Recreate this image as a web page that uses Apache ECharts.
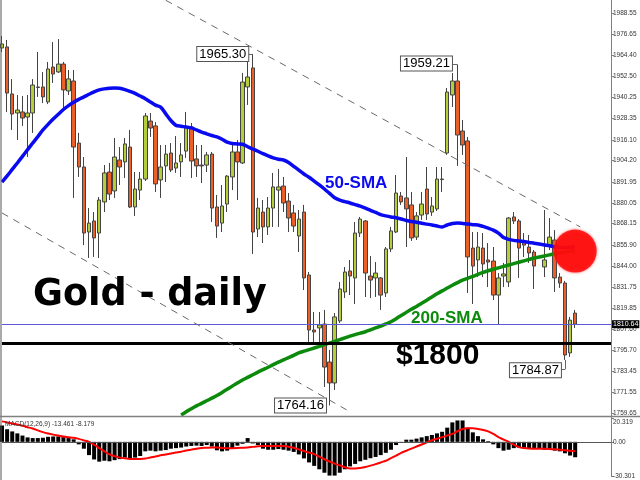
<!DOCTYPE html>
<html><head><meta charset="utf-8">
<script src="https://cdn.jsdelivr.net/npm/echarts@6/dist/echarts.min.js"></script>
<style>html,body{margin:0;padding:0;background:#fff}#c{width:640px;height:480px}</style>
</head><body><div id="c"></div>
<script>
// ---- data ----
const openP = [1968.7,1969.3,1942.4,1931.5,1932.1,1929.2,1931.5,1946.4,1946.4,1937.8,
1957.8,1955.0,1959.5,1944.1,1949.8,1914.3,1900.6,1863.4,1869.7,1862.8,
1880.6,1897.7,1886.9,1904.6,1903.5,1912.0,1877.7,1887.4,1893.7,1926.9,
1924.1,1893.2,1901.2,1908.6,1900.0,1903.5,1909.7,1923.5,1905.2,1901.7,
1901.7,1908.0,1877.7,1868.5,1879.4,1894.9,1909.2,1902.9,1946.4,1957.3,
1865.1,1874.8,1866.3,1877.1,1887.4,1889.7,1881.1,1874.3,1861.1,1874.8,
1838.8,1807.3,1808.5,1810.7,1789.0,1777.0,1812.5,1829.1,1841.1,1837.1,
1862.8,1869.7,1838.2,1837.1,1837.1,1828.5,1853.7,1863.4,1884.0,1882.9,
1878.9,1860.5,1873.1,1888.0,1874.8,1876.6,1893.7,1908.6,1941.8,1949.8,
1921.2,1915.5,1854.2,1847.4,1854.2,1847.4,1846.8,1827.3,1838.2,1834.8,
1872.0,1869.7,1858.2,1854.8,1851.9,null,1843.4,1855.9,1858.8,1837.6,
1834.2,1794.2,1817.0];
const closeP = [1971.0,1942.9,1930.9,1933.2,1928.6,1931.5,1947.5,1946.1,1940.7,1956.7,
1953.8,1959.5,1944.7,1951.0,1912.0,1900.6,1862.8,1868.5,1860.0,1881.7,
1897.2,1885.1,1906.3,1900.6,1913.8,1877.7,1888.0,1893.7,1929.8,1922.9,
1890.9,1900.6,1908.0,1898.9,1902.9,1907.5,1923.5,1904.0,1901.2,1901.2,
1907.5,1877.1,1866.8,1878.3,1895.4,1909.2,1903.5,1949.2,1952.1,1863.4,
1877.1,1866.3,1877.1,1889.2,1889.2,1880.0,1871.4,1866.8,1870.8,1837.1,
1807.3,1806.2,1810.2,1786.1,1777.0,1814.8,1830.8,1840.5,1838.2,1862.8,
1870.8,1839.9,1835.9,1839.9,1827.3,1853.7,1864.0,1885.7,1880.6,1876.6,
1860.0,1872.6,1879.4,1873.7,1878.3,1893.7,1893.4,1943.5,1949.8,1918.9,
1913.2,1849.1,1843.9,1854.8,1845.1,1846.2,1827.3,1837.1,1839.4,1871.4,
1869.7,1854.2,1855.9,1851.4,1843.9,null,1847.4,1860.5,1837.1,1834.2,
1793.0,1813.0,1810.64];
const lowP = [1966.4,1932.1,1921.8,1916.0,1924.1,1906.3,1920.1,1940.7,1937.2,1936.6,
1948.7,1954.4,1933.2,1941.8,1882.9,1894.9,1855.9,1848.5,1849.1,1848.5,
1874.8,1881.7,1882.9,1890.3,1894.3,1877.1,1872.6,1881.7,1892.6,1917.8,
1886.3,1882.9,1892.0,1897.7,1897.2,1894.9,1905.8,1894.3,1894.9,1891.4,
1897.7,1869.1,1860.0,1863.4,1874.8,1887.4,1881.7,1902.3,1936.1,1850.8,
1860.5,1857.1,1861.7,1866.3,1866.3,1874.8,1863.4,1863.4,1851.9,1830.2,
1800.5,1800.5,1800.5,1774.7,1764.16,1773.0,1811.3,1825.6,1827.3,1822.2,
1860.5,1826.2,1825.6,1826.2,1818.8,1826.2,1851.9,1862.8,1878.9,1854.8,
1858.3,1858.8,1870.3,1870.3,1872.6,1875.4,1886.3,1907.5,1934.9,1901.2,
1907.5,1828.5,1822.2,1837.6,1837.6,1831.9,1824.5,1810.2,1831.9,1831.9,
1868.0,1837.1,1849.1,1845.7,1830.8,null,1837.6,1853.1,1829.1,1831.4,
1790.2,1791.9,1808.5];
const highP = [1975.6,1973.3,1950.9,1941.8,1941.2,1941.8,1950.9,1966.4,1954.9,1960.7,
1972.1,1973.8,1960.7,1956.1,1956.1,1920.1,1906.3,1877.1,1874.8,1883.4,
1901.7,1902.9,1917.2,1912.0,1917.2,1921.8,1897.7,1897.7,1931.5,1931.5,
1926.3,1913.2,1913.2,1914.3,1918.3,1914.3,1932.1,1925.8,1913.2,1913.2,
1909.2,1909.2,1884.6,1890.3,1896.0,1914.9,1916.0,1954.4,1962.9,1965.30,
1882.9,1881.7,1883.4,1897.2,1899.5,1894.9,1885.7,1878.9,1876.0,1878.9,
1840.5,1817.6,1817.6,1818.8,1795.9,1817.0,1834.8,1843.4,1847.4,1869.1,
1872.0,1870.3,1849.7,1846.2,1837.6,1854.8,1866.3,1896.0,1886.3,1906.3,
1886.3,1874.8,1886.3,1900.6,1883.4,1900.6,1900.6,1945.8,1954.4,1959.21,
1927.5,1917.8,1863.4,1863.4,1862.8,1857.1,1854.8,1839.9,1845.7,1872.0,
1874.8,1870.8,1862.8,1861.7,1853.1,null,1876.0,1871.4,1864.5,1839.9,
1835.4,1814.8,1818.8];
const sma50 = [1892.0,1895.5,1899.2,1902.9,1906.7,1910.5,1914.3,1918.0,1921.8,1925.0,
1928.0,1930.8,1933.5,1935.7,1937.6,1939.3,1940.7,1942.2,1943.6,1944.7,
1945.3,1945.7,1945.8,1945.6,1944.9,1943.9,1942.7,1941.2,1939.7,1937.8,
1936.0,1934.9,1931.0,1927.2,1924.4,1923.9,1923.5,1923.0,1921.8,1920.6,
1919.6,1918.6,1917.8,1916.5,1914.8,1914.0,1913.8,1913.6,1912.2,1910.9,
1909.6,1908.2,1906.9,1905.8,1905.0,1904.6,1903.2,1901.0,1898.8,1896.6,
1894.7,1892.5,1890.3,1888.0,1885.5,1883.0,1881.6,1880.8,1880.0,1879.1,
1878.2,1877.1,1875.8,1874.6,1873.3,1872.6,1872.0,1871.5,1870.8,1870.0,
1869.4,1869.0,1868.4,1867.9,1867.4,1866.8,1866.3,1867.4,1868.3,1868.5,
1868.3,1868.0,1867.6,1867.4,1866.6,1865.6,1864.5,1862.8,1860.2,1859.2,
1858.6,1858.3,1857.9,1857.4,1857.0,1856.5,1856.0,1855.5,1854.9,1854.6,
1854.5,1854.7,1855.0];
const sma200 = [null,null,null,null,null,null,null,null,null,null,
null,null,null,null,null,null,null,null,null,null,
null,null,null,null,null,null,null,null,null,null,
null,null,null,null,null,1758.7,1760.5,1762.3,1763.9,1765.3,
1766.8,1768.3,1769.8,1771.6,1773.4,1775.2,1777.0,1778.7,1780.2,1781.7,
1783.2,1784.6,1786.0,1787.5,1788.9,1790.2,1791.5,1792.8,1794.2,1795.2,
1796.1,1797.0,1797.9,1798.9,1799.8,1800.8,1801.8,1802.8,1803.8,1804.7,
1805.5,1806.3,1807.4,1808.5,1809.6,1810.8,1812.0,1813.8,1815.6,1817.4,
1819.2,1820.8,1822.6,1824.4,1826.2,1828.0,1829.7,1831.3,1832.9,1834.4,
1835.8,1836.9,1838.0,1839.2,1840.3,1841.2,1842.1,1842.9,1843.7,1844.5,
1845.3,1846.1,1846.9,1847.7,1848.5,1849.1,1849.7,1850.3,1850.9,1851.4,
1851.9,1852.3,1852.7];
const macdHist = [14.3,11.0,9.1,7.4,5.5,3.9,3.3,3.3,3.6,4.4,
4.7,4.7,4.1,3.3,2.2,-2.2,-6.0,-11.6,-15.4,-17.3,
-16.5,-17.0,-16.0,-15.1,-13.8,-14.6,-13.8,-12.4,-8.3,-7.7,
-8.3,-7.7,-7.2,-6.0,-5.5,-5.0,-4.1,-3.6,-3.3,-3.6,
-2.8,-4.1,-7.4,-8.3,-7.7,-5.5,-3.3,-1.7,3.3,-1.4,
-2.8,-6.0,-6.9,-6.9,-6.3,-6.9,-7.7,-8.8,-11.0,-14.5,
-18.0,-21.0,-24.0,-27.0,-29.5,-29.5,-27.0,-24.0,-21.5,-19.3,
-17.0,-15.7,-14.3,-13.2,-11.6,-9.6,-6.9,-2.8,-0.8,1.9,
1.9,2.8,3.9,5.0,6.0,7.4,8.8,12.4,17.0,18.7,
18.7,12.4,8.3,5.0,2.2,0.6,-2.2,-5.5,-7.7,-6.9,
-5.5,-5.0,-5.5,-5.5,-5.5,-6.0,-6.9,-6.9,-7.7,-8.3,
-10.0,-12.0,-13.461];
const macdSignal = [17.9,17.0,16.0,15.1,14.0,12.8,11.6,10.0,8.5,7.3,
6.3,5.5,4.6,4.0,3.5,2.6,1.3,0,-2.5,-5.5,
-8.3,-11.0,-12.5,-13.8,-14.4,-15.0,-15.1,-15.0,-14.6,-13.6,
-12.8,-11.8,-11.0,-10.2,-9.4,-8.6,-7.6,-6.8,-6.0,-5.4,
-5.2,-5.0,-5.0,-5.3,-5.5,-5.5,-5.4,-5.2,-5.0,-4.4,
-3.8,-3.6,-3.6,-3.6,-3.6,-3.7,-4.2,-5.2,-6.6,-8.0,
-9.4,-10.7,-13.0,-15.2,-17.2,-19.0,-20.6,-22.2,-23.2,-23.2,
-22.8,-22.0,-20.8,-19.5,-18.0,-16.5,-14.3,-12.0,-9.6,-7.8,
-5.9,-4.1,-2.3,-0.5,1.4,2.7,4.1,5.5,6.9,9.3,
11.3,11.8,11.8,11.2,10.4,9.2,6.9,4.1,2.0,0,
-2.5,-4.6,-5.4,-5.8,-6.0,-6.0,-6.0,-6.2,-6.5,-6.9,
-7.3,-7.8,-8.179];
const priceTicks = [1759.65,1771.55,1783.45,1795.70,1807.60,1819.85,1831.75,1844.00,1855.90,1868.15,
1880.05,1891.95,1904.20,1916.10,1928.35,1940.25,1952.50,1964.40,1976.65,1988.55];
const macdTicks = [20.319, 0, -30.301];
const macdTickLabels = ['20.319', '0.00', '-30.301'];
const currentPrice = 1810.64;
const supportLevel = 1800;
const extremes = [ // [index, price, label]
  [49, 1965.30, '1965.30'], [89, 1959.21, '1959.21'], [64, 1764.16, '1764.16'], [110, 1784.87, '1784.87']
];
const upperTrend = [[32, 1996.0], [113, 1866.3]];
const lowerTrend = [[0, 1874.3], [68, 1760.5]];
const hotspot = [112, 1852.5];
const slotCount = 120;
// ---- end data ----

const categories = [];
for (let i = 0; i < slotCount; i++) categories.push(String(i));
const candles = openP.map((o, i) => o == null ? ['-', '-', '-', '-'] : [o, closeP[i], lowP[i], highP[i]]);

const chart = echarts.init(document.getElementById('c'), null, {renderer: 'canvas'});
const axisFont = 'Liberation Sans';
const offsets = [[-30, 0], [-31, -1], [-29, 0], [-29.5, 1]];

chart.setOption({
  animation: false,
  backgroundColor: '#fff',
  grid: [
    {left: 2, right: 29, top: 0, height: 416},
    {left: 2, right: 29, top: 417, height: 63}
  ],
  xAxis: [
    {type: 'category', data: categories, boundaryGap: false, gridIndex: 0,
     axisLine: {show: false}, axisTick: {show: false}, axisLabel: {show: false}, splitLine: {show: false}},
    {type: 'category', data: categories, boundaryGap: false, gridIndex: 1,
     axisLine: {show: false}, axisTick: {show: false}, axisLabel: {show: false}, splitLine: {show: false}}
  ],
  yAxis: [
    {type: 'value', gridIndex: 0, position: 'right', min: 1758.1, max: 1996.16, scale: true,
     splitLine: {show: false},
     axisLine: {show: true, lineStyle: {color: '#808080', width: 1}},
     axisTick: {show: true, length: 3, customValues: priceTicks, lineStyle: {color: '#808080'}},
     axisLabel: {customValues: priceTicks, formatter: v => v.toFixed(2), fontSize: 6.5,
       fontFamily: axisFont, color: '#333', margin: 2}},
    {type: 'value', gridIndex: 1, position: 'right', min: -30.301, max: 21.72,
     splitLine: {show: false},
     axisLine: {show: true, lineStyle: {color: '#808080', width: 1}},
     axisTick: {show: true, length: 3, customValues: macdTicks, lineStyle: {color: '#808080'}},
     axisLabel: {customValues: macdTicks, fontSize: 6.5, fontFamily: axisFont, color: '#333', margin: 2,
       formatter: v => {
         const k = macdTicks.findIndex(t => Math.abs(t - v) < 1e-6);
         const s = k >= 0 ? macdTickLabels[k] : String(v);
         return k === 0 ? '{top|' + s + '}' : s;
       },
       rich: {top: {fontSize: 6.5, fontFamily: axisFont, color: '#333', padding: [8, 0, 0, 0]}}}}
  ],
  series: [
    {type: 'candlestick', xAxisIndex: 0, yAxisIndex: 0, data: candles, barWidth: 4, z: 3,
     itemStyle: {color: '#b2cf3a', color0: '#eb5f28', borderColor: '#444', borderColor0: '#444', borderWidth: 1},
     markLine: {
       silent: true, symbol: ['none', 'none'], animation: false,
       data: [
         {yAxis: currentPrice, lineStyle: {color: '#5a5ad8', width: 1, type: 'solid'},
          label: {show: true, position: 'end', distance: 1, formatter: currentPrice.toFixed(2),
            backgroundColor: '#000', color: '#fff', fontSize: 7, fontFamily: axisFont, padding: [1, 1, 0, 1]}},
         {yAxis: supportLevel, lineStyle: {color: '#000', width: 3, type: 'solid'}, label: {show: false}},
         [{coord: upperTrend[0], lineStyle: {color: '#6a6a6a', width: 1, type: [7, 6]}, label: {show: false}}, {coord: upperTrend[1]}],
         [{coord: lowerTrend[0], lineStyle: {color: '#6a6a6a', width: 1, type: [7, 6]}, label: {show: false}}, {coord: lowerTrend[1]}],
         [{coord: [extremes[0][0] - 1, extremes[0][1]], lineStyle: {color: '#666', width: 1, type: 'solid'}, label: {show: false}}, {coord: [extremes[0][0], extremes[0][1]]}],
         [{coord: [extremes[1][0] - 1, extremes[1][1]], lineStyle: {color: '#666', width: 1, type: 'solid'}, label: {show: false}}, {coord: [extremes[1][0], extremes[1][1]]}],
         [{coord: [extremes[3][0] - 1, extremes[3][1]], lineStyle: {color: '#666', width: 1, type: 'solid'}, label: {show: false}}, {coord: [extremes[3][0], extremes[3][1]]}],
         [{coord: [extremes[3][0], extremes[3][1]], lineStyle: {color: '#666', width: 1, type: 'solid'}, label: {show: false}}, {coord: [extremes[3][0], lowP[extremes[3][0]]]}]
       ]
     },
     markPoint: {
       silent: true, animation: false, symbol: 'circle', symbolSize: 0,
       data: extremes.map((e, k) => ({
         coord: [e[0], e[1]], value: e[2],
         label: {show: true, position: 'inside', offset: offsets[k], formatter: e[2],
           backgroundColor: '#fff', borderColor: '#555', borderWidth: 1, padding: [1, 2, 0, 2],
           fontSize: 13, fontFamily: axisFont, color: '#000'}
       }))
     }},
    {type: 'line', xAxisIndex: 0, yAxisIndex: 0, data: sma50, showSymbol: false, smooth: 0.3, z: 4,
     lineStyle: {color: '#0a0af0', width: 3.5}, itemStyle: {color: '#0a0af0'}},
    {type: 'line', xAxisIndex: 0, yAxisIndex: 0, data: sma200, showSymbol: false, smooth: 0.3, z: 4,
     lineStyle: {color: '#0c8a0c', width: 3.5}, itemStyle: {color: '#0c8a0c'}},
    {type: 'scatter', xAxisIndex: 0, yAxisIndex: 0, data: [hotspot], symbol: 'circle', symbolSize: 43, z: 5,
     itemStyle: {color: '#ff0000', shadowBlur: 3, shadowColor: '#ff4040'}},
    {type: 'bar', xAxisIndex: 1, yAxisIndex: 1, data: macdHist, barWidth: 4, z: 2,
     itemStyle: {color: '#000'},
     markLine: {silent: true, symbol: ['none', 'none'], animation: false,
       data: [{yAxis: 0, lineStyle: {color: '#555', width: 1, type: 'solid'}, label: {show: false}}]}},
    {type: 'line', xAxisIndex: 1, yAxisIndex: 1, data: macdSignal, showSymbol: false, smooth: 0.3, z: 3,
     lineStyle: {color: '#ff0000', width: 2}, itemStyle: {color: '#ff0000'}}
  ],
  graphic: [
    {type: 'line', z: 10, shape: {x1: 1, y1: 0, x2: 1, y2: 480}, style: {stroke: '#555', lineWidth: 1}},
    {type: 'line', z: 10, shape: {x1: 0, y1: 416.5, x2: 640, y2: 416.5}, style: {stroke: '#808080', lineWidth: 1.5}},
    {type: 'text', z: 10, style: {text: 'Gold - daily', x: 33, y: 296, font: 'bold 36.5px "DejaVu Sans"', fill: '#000', verticalAlign: 'middle'}},
    {type: 'text', z: 10, style: {text: '$1800', x: 396, y: 356, font: 'bold 30px "Liberation Sans"', fill: '#000', verticalAlign: 'middle'}},
    {type: 'text', z: 10, style: {text: '50-SMA', x: 325, y: 183, font: 'bold 17px "Liberation Sans"', fill: '#0a0af0', verticalAlign: 'middle'}},
    {type: 'text', z: 10, style: {text: '200-SMA', x: 411, y: 318, font: 'bold 17px "Liberation Sans"', fill: '#0c8a0c', verticalAlign: 'middle'}},
    {type: 'text', z: 10, style: {text: 'MACD(12,26,9) -13.461 -8.179', x: 5, y: 424, font: '6.5px "Liberation Sans"', fill: '#333', verticalAlign: 'middle'}}
  ]
});
</script>
</body></html>
